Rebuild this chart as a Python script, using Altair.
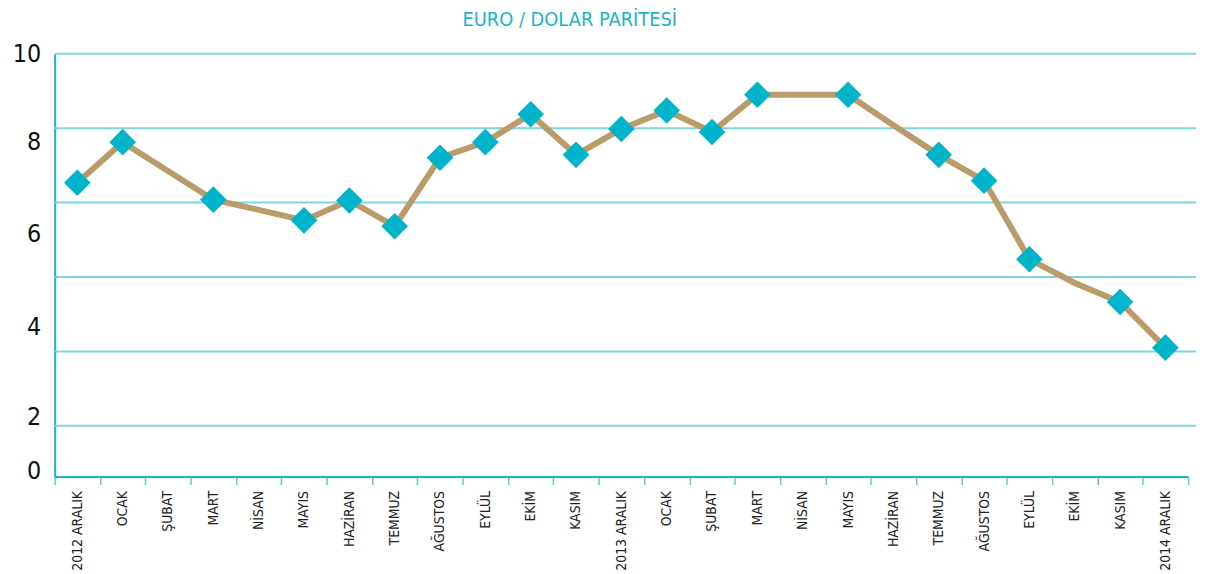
import altair as alt
import pandas as pd

# ---- data ----
MONTH_LABELS = ["2012 ARALIK", "OCAK", "ŞUBAT", "MART", "NİSAN", "MAYIS", "HAZİRAN",
                "TEMMUZ", "AĞUSTOS", "EYLÜL", "EKİM", "KASIM", "2013 ARALIK", "OCAK",
                "ŞUBAT", "MART", "NİSAN", "MAYIS", "HAZİRAN", "TEMMUZ", "AĞUSTOS",
                "EYLÜL", "EKİM", "KASIM", "2014 ARALIK"]
PARITY = [6.95, 7.91, 7.23, 6.55, 6.31, 6.06, 6.53, 5.92, 7.54, 7.91, 8.57, 7.61,
          8.22, 8.66, 8.15, 9.03, 9.03, 9.03, 8.31, 7.61, 7.00, 5.14, 4.58, 4.13, 3.05]
SHOW_MARKER = [1, 1, 0, 1, 0, 1, 1, 1, 1, 1, 1, 1, 1, 1, 1, 1, 0, 1, 0, 1, 1, 1, 0, 1, 1]
Y_TICKS = [0, 2, 4, 6, 8, 10]
GRID_LEVELS = [1.20, 2.96, 4.72, 6.48, 8.24, 10]
TITLE = "EURO / DOLAR PARİTESİ"

FONT = "Liberation Sans Narrow, DejaVu Sans Condensed, Roboto, sans-serif"
TEAL = "#19b5c9"
GRID = "#7fd6e0"
LINE = "#bb9b69"

keys = [f"{i:02d} {lab}" for i, lab in enumerate(MONTH_LABELS)]
df = pd.DataFrame({"key": keys, "value": PARITY, "marker": SHOW_MARKER})
grid_df = pd.DataFrame({"g": GRID_LEVELS})

y_scale = alt.Scale(domain=[0, 10], nice=False, zero=True)
# the reference prints its y labels slightly off their ticks; reproduce that shift
label_shift = {"condition": [
    {"test": "datum.value == 0", "value": -6},
    {"test": "datum.value == 2", "value": 25},
    {"test": "datum.value == 4", "value": 19},
    {"test": "datum.value == 6", "value": 11},
    {"test": "datum.value == 8", "value": 3},
], "value": 0}
y_axis = alt.Axis(values=Y_TICKS, grid=False, ticks=False, domain=True, domainColor=TEAL,
                  domainWidth=2, labelFont=FONT, labelFontSize=25, labelColor="#111111",
                  labelPadding=14, labelOffset=label_shift, title=None)

x_enc = alt.X("key:N", sort=keys,
              scale=alt.Scale(type="band", paddingInner=0, paddingOuter=0),
              axis=alt.Axis(labelExpr="isString(datum.value) ? slice(datum.value, 3) : ''",
                            labelAngle=-90,
                            tickBand="extent", tickColor="#5cc8d8", tickSize=8,
                            tickWidth=1.5, domainColor=TEAL, domainWidth=2,
                            labelFont=FONT, labelFontSize=14, labelColor="#222222",
                            labelPadding=6, title=None))

grid = alt.Chart(grid_df).mark_rule(color=GRID, strokeWidth=2).encode(
    y=alt.Y("g:Q", scale=y_scale, axis=y_axis),
    x=alt.value(0), x2=alt.value(1150),
)

line = alt.Chart(df).mark_line(color=LINE, strokeWidth=6).encode(
    x=x_enc,
    y=alt.Y("value:Q", scale=y_scale, axis=y_axis),
)

points = alt.Chart(df).transform_filter("datum.marker == 1").mark_point(
    shape="diamond", filled=True, color="#00b4cb", size=720, opacity=1
).encode(
    x=x_enc,
    y=alt.Y("value:Q", scale=y_scale, axis=y_axis),
)

chart = alt.layer(grid, line, points).properties(
    width=1142, height=426,
    padding={"left": 4, "top": 0, "right": 0, "bottom": 0},
    title=alt.Title(TITLE, color=TEAL, fontSize=20, font=FONT, fontWeight="normal",
                    anchor="middle", dx=-52, offset=12),
).configure_view(stroke=None)

chart.save("out.html", embed_options={"renderer": "svg", "actions": False})
